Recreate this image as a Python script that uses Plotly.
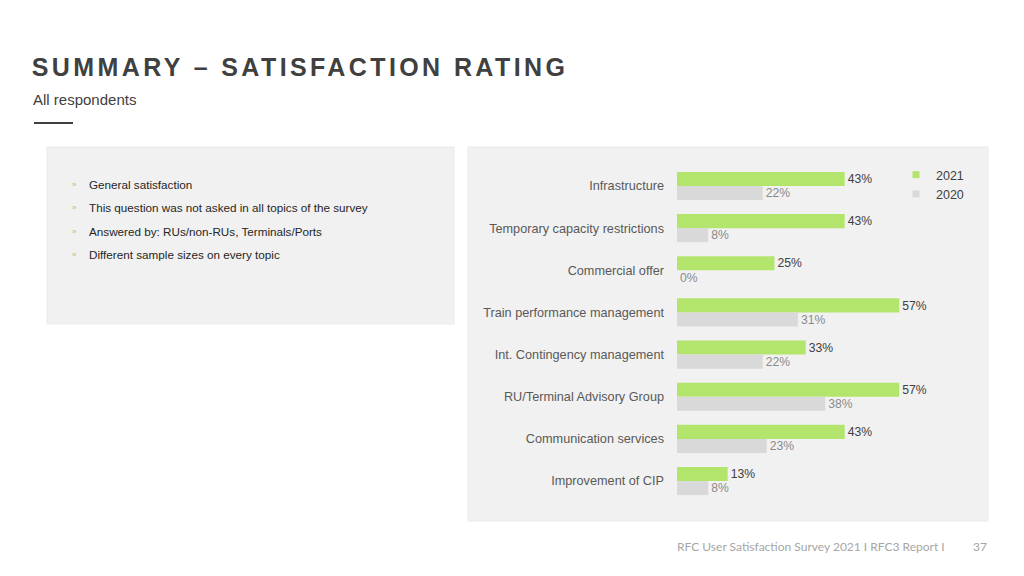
import plotly.graph_objects as go

W, H = 1024, 576

categories = [
    "Infrastructure",
    "Temporary capacity restrictions",
    "Commercial offer",
    "Train performance management",
    "Int. Contingency management",
    "RU/Terminal Advisory Group",
    "Communication services",
    "Improvement of CIP",
]
values_2021 = [43, 43, 25, 57, 33, 57, 43, 13]
values_2020 = [22, 8, 0, 31, 22, 38, 23, 8]
series_names = ["2021", "2020"]

bullets = [
    "General satisfaction",
    "This question was not asked in all topics of the survey",
    "Answered by: RUs/non-RUs, Terminals/Ports",
    "Different sample sizes on every topic",
]

title_text = "SUMMARY – SATISFACTION RATING"
subtitle_text = "All respondents"
footer_text = "RFC User Satisfaction Survey 2021 I RFC3 Report I"
page_number = "37"

GREEN = "#b3e46b"
GRAY = "#d9d9d9"
PANEL = "#f1f1f1"
LETTER_SPACING = 3.4


def px(x):
    return x / W


def py(y):
    return 1 - y / H


fig = go.Figure()

fig.add_trace(go.Bar(
    name=series_names[0], y=categories, x=values_2021, orientation="h",
    marker=dict(color=GREEN, line=dict(width=0)),
    text=[f"{v}%" for v in values_2021], textposition="outside",
    textfont=dict(family="Liberation Sans, Arial", size=13, color="#404040"),
    cliponaxis=False, showlegend=False, hoverinfo="x+y",
))
fig.add_trace(go.Bar(
    name=series_names[1], y=categories, x=values_2020, orientation="h",
    marker=dict(color=GRAY, line=dict(width=0)),
    text=[f"{v}%" for v in values_2020], textposition="outside",
    textfont=dict(family="Liberation Sans, Arial", size=13, color="#8a8a8a"),
    cliponaxis=False, showlegend=False, hoverinfo="x+y",
))
# legend entries
for name, col in zip(series_names, [GREEN, GRAY]):
    fig.add_trace(go.Scatter(
        x=[None], y=[None], mode="markers", name=name,
        marker=dict(symbol="square", size=7, color=col),
        showlegend=True,
    ))

shapes = [
    dict(type="rect", xref="paper", yref="paper", x0=px(47), x1=px(454), y0=py(324), y1=py(147),
         fillcolor=PANEL, line=dict(color="#e9e9e9", width=1), layer="below"),
    dict(type="rect", xref="paper", yref="paper", x0=px(468), x1=px(988), y0=py(521), y1=py(147),
         fillcolor=PANEL, line=dict(color="#e9e9e9", width=1), layer="below"),
    dict(type="line", xref="paper", yref="paper", x0=px(34), x1=px(73), y0=py(123), y1=py(123),
         line=dict(color="#404040", width=2)),
]

# title is centred by the renderer; compensate for the added letter spacing
title_shift = LETTER_SPACING * len(title_text) / 2
annotations = [
    dict(text=f"<b>{title_text}</b>", xref="paper", yref="paper", x=px(30 + title_shift), y=py(67),
         xanchor="left", yanchor="middle", showarrow=False,
         font=dict(family="Liberation Sans, Arial", size=25, color="#404040")),
    dict(text=subtitle_text, xref="paper", yref="paper", x=px(31), y=py(99),
         xanchor="left", yanchor="middle", showarrow=False,
         font=dict(family="Liberation Sans, Arial", size=15, color="#404040")),
    dict(text=footer_text, xref="paper", yref="paper", x=px(675), y=py(546),
         xanchor="left", yanchor="middle", showarrow=False,
         font=dict(family="Lato", size=12, color="#a6a6a6")),
    dict(text=page_number, xref="paper", yref="paper", x=px(971), y=py(546),
         xanchor="left", yanchor="middle", showarrow=False,
         font=dict(family="Lato", size=12, color="#a6a6a6")),
]

bullet_ys = [184, 207.5, 231, 254]
for txt, yy in zip(bullets, bullet_ys):
    annotations.append(dict(text="»", xref="paper", yref="paper", x=px(70), y=py(yy),
                            xanchor="left", yanchor="middle", showarrow=False,
                            font=dict(family="Liberation Sans, Arial", size=8, color="#c8b27a")))
    annotations.append(dict(text=txt, xref="paper", yref="paper", x=px(87), y=py(yy),
                            xanchor="left", yanchor="middle", showarrow=False,
                            font=dict(family="Liberation Sans, Arial", size=11.7, color="#262626")))

fig.update_layout(
    width=W, height=H,
    margin=dict(l=0, r=0, t=0, b=0),
    paper_bgcolor="white", plot_bgcolor="rgba(0,0,0,0)",
    barmode="group", bargap=0.333, bargroupgap=0,
    showlegend=True,
    legend=dict(x=px(896), y=py(160), xanchor="left", yanchor="top",
                bgcolor="rgba(0,0,0,0)", borderwidth=0, itemwidth=30,
                font=dict(family="Liberation Sans, Arial", size=12.5, color="#404040"),
                tracegroupgap=0),
    xaxis=dict(domain=[px(677), px(987)], range=[0, 79.5], visible=False, fixedrange=True),
    yaxis=dict(domain=[py(502.1), py(164.9)], autorange="reversed", showgrid=False,
               zeroline=False, showline=False, ticks="", ticklabelstandoff=12,
               tickfont=dict(family="Liberation Sans, Arial", size=12.7, color="#595959")),
    shapes=shapes,
    annotations=annotations,
)

post = """
document.body.style.margin = '0';
document.body.style.padding = '0';
var gd = document.getElementById('{plot_id}');
function spaceTitle(){
  gd.querySelectorAll('.annotation-text').forEach(function(t){
    if (t.textContent.indexOf('SUMMARY') === 0) { t.style.letterSpacing = '%spx'; }
  });
}
spaceTitle();
if (gd.on) { gd.on('plotly_afterplot', spaceTitle); }
""" % LETTER_SPACING

fig.write_html("out.html", post_script=post, config={"displayModeBar": False})
